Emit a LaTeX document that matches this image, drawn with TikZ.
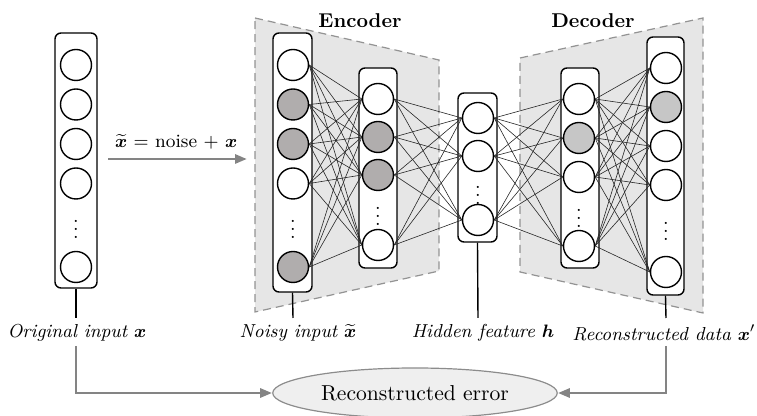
\documentclass[tikz,border=0pt]{standalone}
\usepackage{amsmath}
\usetikzlibrary{arrows.meta,shapes.geometric}

\definecolor{panelgray}{HTML}{E6E6E6}
\definecolor{noisegray}{HTML}{B0ADAD}
\definecolor{decgray}{HTML}{C6C6C6}
\definecolor{flowgray}{HTML}{848484}
\definecolor{errgray}{HTML}{EFEFEF}

\tikzset{
  unit/.style={circle, draw, line width=0.7pt, fill=white, minimum size=15.5pt, inner sep=0pt},
  layerbox/.style={draw, line width=0.7pt, rounded corners=3pt, fill=white, inner sep=0pt},
  link/.style={line width=0.3pt, black!85},
  stub/.style={line width=0.7pt},
  flow/.style={draw=flowgray, line width=1.4pt, -{Triangle[length=6pt,width=4.5pt]}},
  panel/.style={fill=panelgray, draw=gray!85, line width=0.6pt, dash pattern=on 4pt off 2.5pt},
  caption/.style={font=\fontsize{9.4}{11}\selectfont\itshape},
}

\begin{document}
\begin{tikzpicture}[x=0.5pt, y=-0.5pt]
  \useasboundingbox (0,0) rectangle (757,416);

  % encoder / decoder panels
  \draw[panel] (255,18) -- (439,60) -- (439,271) -- (255,312) -- cycle;
  \draw[panel] (520,58) -- (703,18) -- (703,313) -- (520,272) -- cycle;
  \node[font=\bfseries] (enctitle) at (360,21) {Encoder};
  \node[font=\bfseries] (dectitle) at (593,21) {Decoder};

  % layer boxes
  \node[layerbox, minimum width=21pt, minimum height=127.5pt] (orig) at (76,160.5) {};
  \node[layerbox, minimum width=19.5pt, minimum height=129.5pt] (noisy) at (292.5,162.5) {};
  \node[layerbox, minimum width=19pt, minimum height=100pt] (enc) at (378,168) {};
  \node[layerbox, minimum width=19.5pt, minimum height=74.5pt] (hid) at (477.5,167.5) {};
  \node[layerbox, minimum width=19pt, minimum height=100pt] (dec) at (580,168) {};
  \node[layerbox, minimum width=18.5pt, minimum height=129pt] (rec) at (665.5,166) {};

  % original input x
  \node[unit] (or1) at (76,65) {};
  \node[unit] (or2) at (76,104.5) {};
  \node[unit] (or3) at (76,144) {};
  \node[unit] (or4) at (76,183.5) {};
  \node[inner sep=0pt] (ordots) at (76,223) {$\vdots$};
  \node[unit] (or6) at (76,267) {};

  % noisy input
  \node[unit] (nz1) at (293,65) {};
  \node[unit, fill=noisegray] (nz2) at (293,104.5) {};
  \node[unit, fill=noisegray] (nz3) at (293,144) {};
  \node[unit] (nz4) at (293,183.5) {};
  \node[inner sep=0pt] (nzdots) at (293,223) {$\vdots$};
  \node[unit, fill=noisegray] (nz6) at (293,267) {};

  % encoder layer
  \node[unit] (en1) at (378,99) {};
  \node[unit, fill=noisegray] (en2) at (378,137) {};
  \node[unit, fill=noisegray] (en3) at (378,175) {};
  \node[inner sep=0pt] (endots) at (378,210) {$\vdots$};
  \node[unit] (en5) at (378,245) {};

  % hidden feature
  \node[unit] (hd1) at (478,118) {};
  \node[unit] (hd2) at (478,156) {};
  \node[inner sep=0pt] (hddots) at (478,189) {$\vdots$};
  \node[unit] (hd4) at (478,220) {};

  % decoder layer
  \node[unit] (de1) at (579,99) {};
  \node[unit, fill=decgray] (de2) at (579,138) {};
  \node[unit] (de3) at (579,177) {};
  \node[inner sep=0pt] (dedots) at (579,212) {$\vdots$};
  \node[unit] (de5) at (579,246) {};

  % reconstructed data
  \node[unit] (rc1) at (666,68) {};
  \node[unit, fill=decgray] (rc2) at (666,107) {};
  \node[unit] (rc3) at (666,146) {};
  \node[unit] (rc4) at (666,185) {};
  \node[inner sep=0pt] (rcdots) at (666,225) {$\vdots$};
  \node[unit] (rc6) at (666,272) {};

  % full connections
  \foreach \a in {1,2,3,4,6}
    \foreach \b in {1,2,3,5}
      \draw[link] (nz\a.east) -- (en\b.west);
  \foreach \a in {1,2,3,5}
    \foreach \b in {1,2,4}
      \draw[link] (en\a.east) -- (hd\b.west);
  \foreach \a in {1,2,4}
    \foreach \b in {1,2,3,5}
      \draw[link] (hd\a.east) -- (de\b.west);
  \foreach \a in {1,2,3,5}
    \foreach \b in {1,2,3,4,6}
      \draw[link] (de\a.east) -- (rc\b.west);

  % corruption step
  \coordinate (noisefrom) at (108,159);
  \coordinate (noiseto) at (247,159);
  \draw[flow] (noisefrom) -- (noiseto);
  \node[anchor=west, font=\fontsize{9.4}{11}\selectfont] (noiselbl) at (108,142)
    {$\widetilde{\boldsymbol{x}}$ = noise + $\boldsymbol{x}$};

  % captions under the layers
  \coordinate (origend) at (76,318);
  \coordinate (noisyend) at (293,318);
  \coordinate (hidend) at (478,318);
  \coordinate (recend) at (666,318);
  \draw[stub] (orig.south) -- (origend);
  \draw[stub] (noisy.south) -- (noisyend);
  \draw[stub] (hid.south) -- (hidend);
  \draw[stub] (rec.south) -- (recend);
  \node[caption] (origlbl) at (77,333) {Original input $\boldsymbol{x}$};
  \node[caption] (noisylbl) at (298,333) {Noisy input $\widetilde{\boldsymbol{x}}$};
  \node[caption] (hidlbl) at (483,333) {Hidden feature $\boldsymbol{h}$};
  \node[caption, anchor=east, inner xsep=0pt] (reclbl) at (756,333) {Reconstructed data $\boldsymbol{x}'$};

  % reconstruction error
  \node[ellipse, draw=gray!90, fill=errgray, line width=0.6pt, font=\fontsize{10.8}{13}\selectfont,
        minimum width=133pt, minimum height=25pt] (err) at (415,393) {Reconstructed error};
  \coordinate (origout) at (76,346);
  \coordinate (recout) at (666,346);
  \draw[flow] (origout) |- (err);
  \draw[flow] (recout) |- (err);
\end{tikzpicture}
\end{document}
